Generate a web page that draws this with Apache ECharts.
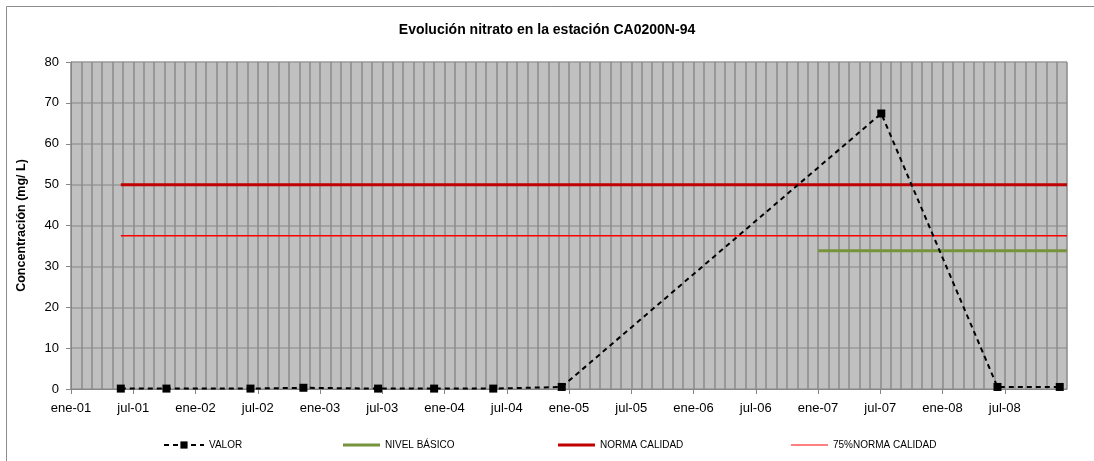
<!DOCTYPE html>
<html>
<head>
<meta charset="utf-8">
<script src="https://cdn.jsdelivr.net/npm/echarts@6/dist/echarts.min.js"></script>
<style>
  html, body { margin: 0; padding: 0; background: #fff; }
  #chart { width: 1094px; height: 461px; }
</style>
</head>
<body>
<div id="chart"></div>
<script>
// months counted from ene-01 (0) to ene-09 (96)
var sampleMonths = [4.8, 9.2, 17.3, 22.4, 29.6, 35.0, 40.7, 47.3, 78.1, 89.3, 95.3];
var valor = [0.1, 0.1, 0.1, 0.3, 0.1, 0.1, 0.1, 0.5, 67.4, 0.5, 0.5];

var normaMonths = [4.8, 96];
var normaCalidad = [50, 50];
var norma75 = [37.5, 37.5];
var nivelMonths = [72, 96];
var nivelBasico = [33.8, 33.8];

var monthNames = ['ene', 'jul'];
var yearLabels = ['01', '02', '03', '04', '05', '06', '07', '08', '09'];

function pairs(xs, ys) {
    var out = [];
    for (var i = 0; i < xs.length; i++) {
        out.push([xs[i], ys[i]]);
    }
    return out;
}

var myChart = echarts.init(document.getElementById('chart'));

var legendText = { fontFamily: 'Liberation Sans', fontSize: 10, color: '#000' };

var option = {
    backgroundColor: '#fff',
    animation: false,
    title: {
        text: 'Evolución nitrato en la estación CA0200N-94',
        left: 'center',
        top: 18,
        textStyle: { fontFamily: 'Liberation Sans', fontSize: 14, fontWeight: 'bold', color: '#000' }
    },
    graphic: [{
        type: 'rect',
        shape: { x: 6.5, y: 6.5, width: 1100, height: 470 },
        style: { fill: 'none', stroke: '#8c8c8c', lineWidth: 1 },
        silent: true
    }],
    legend: [
        { data: ['VALOR'], left: 163, top: 440, padding: 0, itemWidth: 40, itemHeight: 9, itemGap: 4, textStyle: legendText },
        { data: [{ name: 'NIVEL BÁSICO', icon: 'rect' }], left: 343, top: 440, padding: 0, itemWidth: 37, itemHeight: 3, textStyle: legendText },
        { data: [{ name: 'NORMA CALIDAD', icon: 'rect' }], left: 558, top: 440, padding: 0, itemWidth: 37, itemHeight: 3, textStyle: legendText },
        { data: [{ name: '75%NORMA CALIDAD', icon: 'rect' }], left: 791, top: 440, padding: 0, itemWidth: 37, itemHeight: 2, textStyle: legendText }
    ],
    grid: {
        left: 71,
        right: 27,
        top: 62,
        bottom: 72,
        show: true,
        backgroundColor: '#c0c0c0',
        borderWidth: 0
    },
    xAxis: {
        type: 'value',
        min: 0,
        max: 96,
        interval: 6,
        axisLine: { show: true, onZero: false, lineStyle: { color: '#868686', width: 1 } },
        axisTick: { show: true, length: 5, lineStyle: { color: '#868686' } },
        minorTick: { show: false, splitNumber: 6 },
        splitLine: { show: true, lineStyle: { color: '#8a8a8a', width: 1.5 } },
        minorSplitLine: { show: true, lineStyle: { color: '#8a8a8a', width: 1.5 } },
        axisLabel: {
            margin: 13,
            fontFamily: 'Liberation Sans',
            fontSize: 13,
            color: '#000',
            showMaxLabel: false,
            formatter: function (v) {
                var idx = Math.round(v / 6);
                return monthNames[idx % 2] + '-' + yearLabels[Math.floor(idx / 2)];
            }
        }
    },
    yAxis: {
        type: 'value',
        min: 0,
        max: 80,
        interval: 10,
        name: 'Concentración (mg/ L)',
        nameLocation: 'middle',
        nameGap: 43,
        nameTextStyle: { fontFamily: 'Liberation Sans', fontSize: 12.5, fontWeight: 'bold', color: '#000' },
        axisLine: { show: true, lineStyle: { color: '#868686', width: 1 } },
        axisTick: { show: true, length: 5, lineStyle: { color: '#868686' } },
        splitLine: { show: true, lineStyle: { color: '#9a9a9a', width: 1.5 } },
        axisLabel: { margin: 12, fontFamily: 'Liberation Sans', fontSize: 13, color: '#000' }
    },
    series: [
        {
            name: 'NORMA CALIDAD',
            type: 'line',
            data: pairs(normaMonths, normaCalidad),
            symbol: 'none',
            lineStyle: { color: '#c00000', width: 3 },
            itemStyle: { color: '#c00000' },
            z: 2
        },
        {
            name: '75%NORMA CALIDAD',
            type: 'line',
            data: pairs(normaMonths, norma75),
            symbol: 'none',
            lineStyle: { color: '#ff0000', width: 1.5 },
            itemStyle: { color: '#ff8080' },
            z: 2
        },
        {
            name: 'NIVEL BÁSICO',
            type: 'line',
            data: pairs(nivelMonths, nivelBasico),
            symbol: 'none',
            lineStyle: { color: '#77933c', width: 3 },
            itemStyle: { color: '#77933c' },
            z: 2
        },
        {
            name: 'VALOR',
            type: 'line',
            data: pairs(sampleMonths, valor),
            symbol: 'rect',
            symbolSize: 8,
            lineStyle: { color: '#000', width: 2, type: [5, 4] },
            itemStyle: { color: '#000' },
            z: 5
        }
    ]
};
myChart.setOption(option);
</script>
</body>
</html>
